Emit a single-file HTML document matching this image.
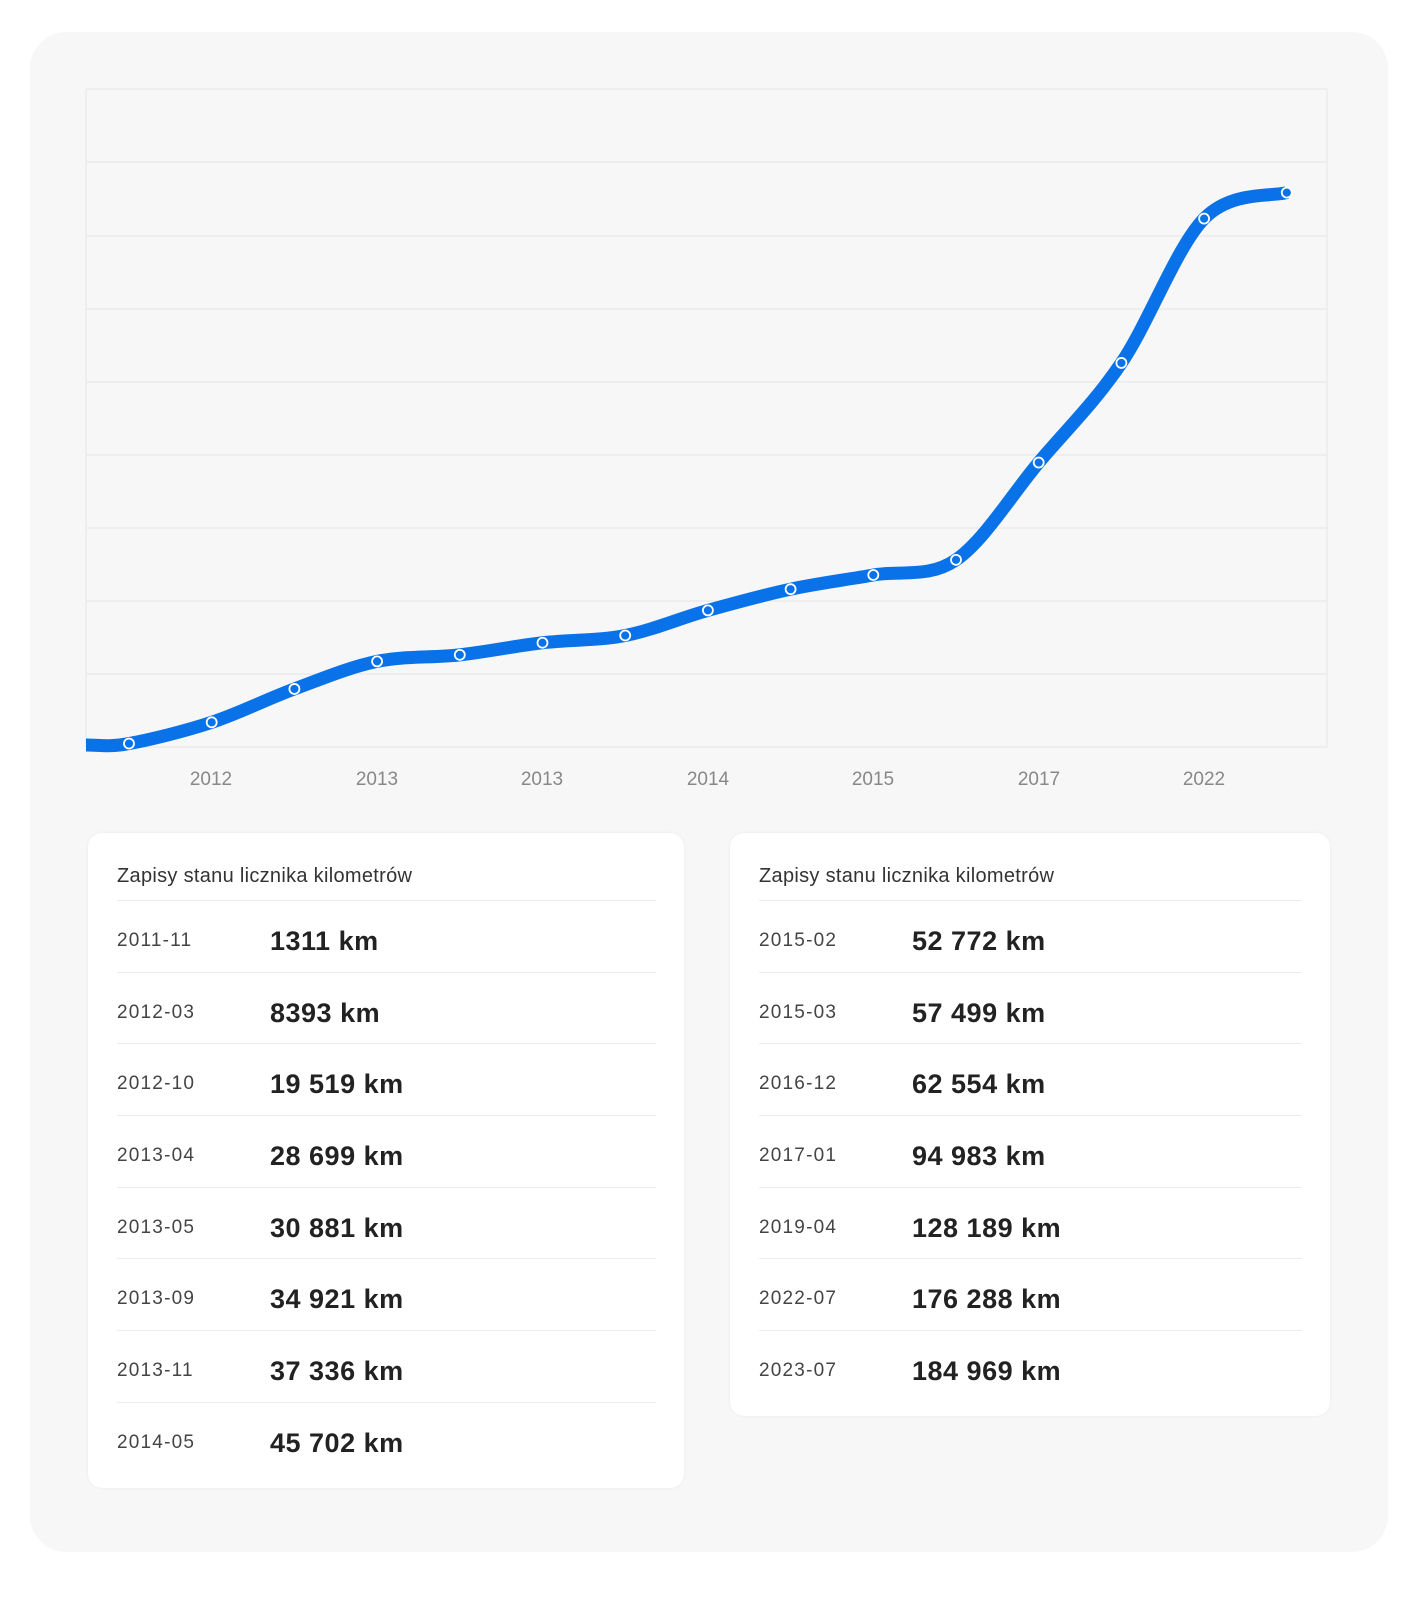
<!DOCTYPE html>
<html><head><meta charset="utf-8"><style>
body{margin:0;width:1414px;height:1600px;background:#fff;font-family:"Liberation Sans",sans-serif;position:relative;overflow:hidden}
.outer{position:absolute;left:30px;top:32px;width:1358px;height:1520px;background:#f7f7f7;border-radius:36px}
.card{position:absolute;background:#fff;border-radius:14px;box-shadow:0 0 3px rgba(0,0,0,0.06)}
.title{position:absolute;left:29px;top:32px;font-size:20px;letter-spacing:0.3px;color:#333}
.row{position:absolute;left:29px;right:28px;height:71.7px;border-top:1.5px solid #ececec}
.d{position:absolute;left:0;top:29px;font-size:19px;letter-spacing:1.2px;color:#444}
.v{position:absolute;left:153px;top:25px;font-size:27px;letter-spacing:0.5px;font-weight:bold;color:#222}
</style></head><body>
<div class="outer"></div>
<svg style="position:absolute;left:0;top:0" width="1414" height="820">
<g stroke="#ebebeb" stroke-width="1.5">
<line x1="86" y1="89" x2="1327" y2="89"/><line x1="86" y1="162" x2="1327" y2="162"/><line x1="86" y1="236" x2="1327" y2="236"/><line x1="86" y1="309" x2="1327" y2="309"/><line x1="86" y1="382" x2="1327" y2="382"/><line x1="86" y1="455" x2="1327" y2="455"/><line x1="86" y1="528" x2="1327" y2="528"/><line x1="86" y1="601" x2="1327" y2="601"/><line x1="86" y1="674" x2="1327" y2="674"/><line x1="86" y1="747" x2="1327" y2="747"/>
<line x1="86" y1="89" x2="86" y2="747"/><line x1="1327" y1="89" x2="1327" y2="747"/>
</g>
<path id="ln" fill="none" stroke="#0a72e8" stroke-width="13" stroke-linecap="butt"/>
<g id="pts" fill="#0a72e8" stroke="#fff" stroke-width="1.8"></g>
<g font-size="19" fill="#888" text-anchor="middle">
<text x="211" y="785">2012</text><text x="377" y="785">2013</text><text x="542" y="785">2013</text><text x="708" y="785">2014</text><text x="873" y="785">2015</text><text x="1039" y="785">2017</text><text x="1204" y="785">2022</text>
</g>
</svg>
<div class="card" style="left:88px;top:833px;width:596px;height:655px">
<div class="title">Zapisy stanu licznika kilometrów</div>
<div class="row" style="top:67px"><span class="d">2011-11</span><span class="v">1311 km</span></div>
<div class="row" style="top:139px"><span class="d">2012-03</span><span class="v">8393 km</span></div>
<div class="row" style="top:210px"><span class="d">2012-10</span><span class="v">19 519 km</span></div>
<div class="row" style="top:282px"><span class="d">2013-04</span><span class="v">28 699 km</span></div>
<div class="row" style="top:354px"><span class="d">2013-05</span><span class="v">30 881 km</span></div>
<div class="row" style="top:425px"><span class="d">2013-09</span><span class="v">34 921 km</span></div>
<div class="row" style="top:497px"><span class="d">2013-11</span><span class="v">37 336 km</span></div>
<div class="row" style="top:569px"><span class="d">2014-05</span><span class="v">45 702 km</span></div>
</div>
<div class="card" style="left:730px;top:833px;width:600px;height:583px">
<div class="title">Zapisy stanu licznika kilometrów</div>
<div class="row" style="top:67px"><span class="d">2015-02</span><span class="v">52 772 km</span></div>
<div class="row" style="top:139px"><span class="d">2015-03</span><span class="v">57 499 km</span></div>
<div class="row" style="top:210px"><span class="d">2016-12</span><span class="v">62 554 km</span></div>
<div class="row" style="top:282px"><span class="d">2017-01</span><span class="v">94 983 km</span></div>
<div class="row" style="top:354px"><span class="d">2019-04</span><span class="v">128 189 km</span></div>
<div class="row" style="top:425px"><span class="d">2022-07</span><span class="v">176 288 km</span></div>
<div class="row" style="top:497px"><span class="d">2023-07</span><span class="v">184 969 km</span></div>
</div>
<script>
var v=[1311,8393,19519,28699,30881,34921,37336,45702,52772,57499,62554,94983,128189,176288,184969];
var P=[[86,745]];
v.forEach(function(d,i){P.push([129+i*82.7,747.5-d*0.003]);});
var s="M"+P[0][0]+","+P[0][1];
for(var i=0;i<P.length-1;i++){
 var p0=P[Math.max(0,i-1)],p1=P[i],p2=P[i+1],p3=P[Math.min(P.length-1,i+2)];
 var t=1/6;
 var c1=[p1[0]+(p2[0]-p0[0])*t,p1[1]+(p2[1]-p0[1])*t];
 var c2=[p2[0]-(p3[0]-p1[0])*t,p2[1]-(p3[1]-p1[1])*t];
 if(i==0){c1=[p1[0]+15,p1[1]];}
 s+=" C"+c1[0]+","+c1[1]+" "+c2[0]+","+c2[1]+" "+p2[0]+","+p2[1];
}
document.getElementById("ln").setAttribute("d",s);
var g=document.getElementById("pts"),h="";
for(var i=1;i<P.length;i++)h+='<circle cx="'+P[i][0]+'" cy="'+P[i][1]+'" r="5"/>';
g.innerHTML=h;
</script>
</body></html>
